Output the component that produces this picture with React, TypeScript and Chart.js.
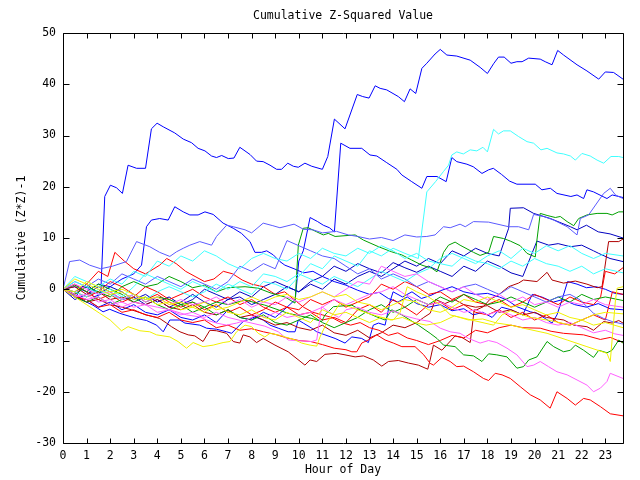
import React, { useEffect, useRef } from "react";
import { Chart, registerables } from "chart.js";

Chart.register(...registerables);

const TITLE = "Cumulative Z-Squared Value";
const X_TITLE = "Hour of Day";
const Y_TITLE = "Cumulative (Z*Z)-1";
const X_TICKS = [0, 1, 2, 3, 4, 5, 6, 7, 8, 9, 10, 11, 12, 13, 14, 15, 16, 17, 18, 19, 20, 21, 22, 23];
const Y_TICKS = [-30, -20, -10, 0, 10, 20, 30, 40, 50];
const X_MIN = 0;
const X_MAX = 23.75;
const Y_MIN = -30;
const Y_MAX = 50;

type P = [number, number];

const BIG_BLUE: P[] = [[0,0],[0.3,-0.8],[0.55,-1.5],[0.8,0.5],[1.05,0.3],[1.3,-1.5],[1.6,-1.0],[1.77,18.1],[2.01,20.3],[2.27,19.8],[2.52,18.7],[2.76,24.2],[3.12,23.6],[3.5,23.6],[3.75,31.3],[3.99,32.4],[4.25,31.7],[4.74,30.5],[5.1,29.3],[5.45,28.6],[5.73,27.5],[6.02,27.0],[6.3,26.0],[6.51,25.7],[6.73,26.1],[7.01,25.5],[7.25,25.6],[7.5,27.7],[7.93,26.3],[8.21,25.0],[8.49,24.9],[8.78,24.2],[9.06,23.4],[9.27,23.4],[9.53,24.6],[9.77,24.0],[9.98,23.8],[10.26,24.6],[10.55,24.0],[11.0,23.4],[11.23,25.9],[11.51,33.2],[11.96,31.3],[12.48,38.0],[12.71,37.6],[12.98,37.3],[13.24,39.7],[13.45,39.2],[13.73,38.9],[14.22,37.6],[14.48,36.6],[14.72,39.1],[14.96,38.2],[15.22,43.1],[15.43,44.1],[15.78,45.9],[16.0,46.8],[16.28,45.7],[16.7,45.5],[17.27,44.7],[17.69,43.3],[18.0,42.1],[18.26,44.0],[18.47,45.3],[18.71,45.3],[19.0,44.1],[19.25,44.4],[19.47,44.4],[19.75,45.1],[20.24,44.9],[20.45,44.4],[20.74,43.8],[20.98,46.6],[21.23,45.7],[21.8,43.8],[22.22,42.6],[22.72,41.0],[23.0,42.4],[23.35,42.3],[23.75,41.0]];

const BLUE_2: P[] = [[0,0],[0.5,-1.5],[1,-2],[1.5,-3.5],[2,-2.5],[2.5,-4],[3,-3],[3.5,-4.5],[4,-5],[4.5,-4],[5,-5.5],[5.5,-6],[6,-5],[6.5,-6.5],[7,-4],[7.5,-5.5],[8,-6],[8.5,-4.5],[9,-5.5],[9.5,-3.5],[9.85,-2],[10.0,5.5],[10.19,7.5],[10.48,14.0],[10.8,13.2],[11.04,12.5],[11.3,12.0],[11.51,11.2],[11.78,28.5],[12.17,27.5],[12.67,27.5],[13.02,26.2],[13.31,26.0],[13.73,24.7],[14.16,23.4],[14.37,22.3],[14.79,21.0],[15.22,19.7],[15.43,22.0],[15.86,22.0],[16.25,21.0],[16.49,25.7],[16.7,24.9],[17.13,24.4],[17.4,23.9],[17.77,22.6],[18.05,23.3],[18.25,23.6],[18.6,22.4],[18.94,21.1],[19.25,20.5],[20.03,20.5],[20.31,19.4],[20.67,19.7],[20.95,18.7],[21.54,18.1],[21.8,18.4],[22.08,17.7],[22.22,19.4],[22.5,19.0],[23.07,17.7],[23.29,18.4],[23.75,17.9]];

const BLUE_3: P[] = [[0,0],[0.5,0.5],[1,-0.5],[1.5,1.0],[2,0.5],[2.5,2.0],[3,3.0],[3.33,4.7],[3.54,12.2],[3.75,13.5],[4.1,13.8],[4.46,13.5],[4.74,16.1],[5.1,15.1],[5.38,14.5],[5.73,14.5],[6.02,15.1],[6.37,14.6],[6.79,12.9],[7.22,11.9],[7.57,10.9],[7.93,9.3],[8.14,7.2],[8.42,7.2],[8.64,7.5],[8.92,6.7],[9.2,5.4],[9.41,4.7],[9.8,4.0],[10.2,3.2],[10.6,3.5],[11.0,2.5],[11.5,1.5],[12.0,0.8],[12.5,-0.2],[13.0,-1.0],[13.4,-0.6],[13.8,-1.8],[14.2,-2.5],[14.6,-1.5],[15.0,-2.8],[15.5,-3.5],[16.0,-3.0],[16.5,-4.2],[17.0,-3.8],[17.4,-5.0],[17.8,-4.5],[18.2,-5.5],[18.6,-3.5],[19.0,-4.0],[19.5,-5.0],[19.9,-1.0],[20.3,-1.5],[20.8,-2.5],[21.2,-2.0],[21.7,-3.0],[22.2,-3.5],[22.7,-2.8],[23.2,-3.8],[23.75,-4.0]];

const BLUE_4: P[] = [[0,0],[0.5,-1.5],[1.0,-2.5],[1.27,-3.1],[1.7,-4.4],[1.98,-3.9],[2.41,-4.7],[3.12,-5.7],[3.54,-6.1],[3.97,-7.0],[4.25,-8.3],[4.53,-6.0],[4.96,-6.0],[5.17,-6.6],[5.8,-7.0],[6.09,-7.6],[6.51,-7.8],[6.94,-8.3],[7.15,-8.6],[7.64,-6.3],[8.14,-5.4],[8.49,-6.0],[8.78,-7.0],[9.13,-7.6],[9.55,-8.3],[9.84,-8.3],[9.98,-6.0],[10.19,-6.6],[10.55,-7.6],[10.76,-8.3],[11.11,-8.9],[11.54,-9.6],[11.96,-10.5],[12.25,-9.3],[12.67,-9.6],[12.95,-10.4],[13.16,-7.0],[13.38,-6.6],[13.66,-7.0],[13.8,-4.0],[13.87,-2.4],[14.0,-0.5],[14.4,-1.5],[14.8,-0.5],[15.2,-1.8],[15.6,-1.2],[16.0,-0.3],[16.5,0.5],[17.0,-0.5],[17.5,-1.0],[18.0,-0.8],[18.5,-1.5],[18.83,-2.1],[19.25,-3.4],[19.82,-4.4],[20.1,-4.7],[20.45,-5.7],[20.74,-6.6],[20.95,-5.0],[21.16,-2.1],[21.4,1.5],[21.8,1.0],[22.2,0.3],[22.6,0.5],[23.0,0.0],[23.4,-0.8],[23.75,-1.0]];

const BLUE_5: P[] = [[0,0],[0.5,-2],[1,-1],[1.5,0.5],[2,-0.5],[2.5,-2],[3,-1.5],[3.5,-3],[4,-2],[4.5,-3.5],[5,-2.5],[5.5,-1],[6,-2.5],[6.5,-3.5],[7,-2],[7.5,-1.5],[8,-3],[8.5,-2],[9,-1],[9.5,0.5],[10,-0.5],[10.5,1.5],[11,2.5],[11.5,4.5],[12,3.5],[12.5,5],[13,4],[13.5,3.2],[14,5.2],[14.5,4.2],[15,3.3],[15.5,4.5],[16,3.5],[16.5,2.5],[17,4.5],[17.5,3.5],[18,5.5],[18.5,4.5],[19,3.2],[19.5,2.5],[20.1,9.4],[20.6,8.6],[21.0,8.9],[21.52,8.3],[22.0,8.6],[22.5,7.5],[22.72,7.0],[23.2,6.0],[23.75,5.4]];

const DARK_BLUE: P[] = [[0,0],[0.5,-0.5],[1,1],[1.5,-1],[2,0.5],[2.5,-0.5],[3,-2],[3.5,-1],[4,-2.5],[4.5,-1.5],[5,-3],[5.5,-2],[6,0],[6.5,-1],[7,-2],[7.5,-0.5],[8,-1.5],[8.5,0.5],[9,1.5],[9.5,0.5],[10,-0.5],[10.5,1],[11,0],[11.5,2],[12,1],[12.5,2.5],[13,3.5],[13.5,2.5],[14,4],[14.5,5.5],[15,4.5],[15.5,6],[16,5],[16.5,7.5],[17,6.5],[17.5,8],[18,7],[18.5,6.5],[18.9,11.9],[18.97,15.8],[19.53,15.9],[19.96,14.8],[20.67,13.8],[21.52,12.2],[21.8,11.6],[22.2,12.5],[22.7,11.2],[23.2,10.8],[23.75,10.0]];

const SLATE_1: P[] = [[0,0],[0.28,5.4],[0.71,5.7],[1.13,4.7],[1.6,4.0],[2.1,4.5],[2.69,5.4],[3.12,9.3],[3.68,8.3],[4.1,7.2],[4.53,6.4],[4.81,7.3],[5.1,8.0],[5.38,8.6],[5.8,9.3],[6.3,8.6],[6.51,10.3],[6.94,12.5],[7.22,12.2],[7.72,11.6],[8.0,11.0],[8.49,12.9],[8.9,12.4],[9.2,12.0],[9.8,12.7],[10.2,11.7],[10.6,11.6],[11.0,11.0],[11.6,11.3],[12.1,10.6],[12.5,10.3],[13.0,9.8],[13.5,10.1],[14.0,9.5],[14.5,10.6],[15.0,10.2],[15.43,10.3],[15.78,10.6],[16.14,12.2],[16.42,12.0],[16.84,12.7],[17.06,12.2],[17.41,13.2],[18.05,13.1],[18.9,12.2],[19.32,12.2],[19.75,11.6],[19.96,14.6],[20.38,14.2],[20.81,13.5],[21.38,12.2],[21.8,10.6],[21.94,13.8],[22.29,14.5],[22.93,18.7],[23.21,19.7],[23.43,18.4],[23.75,17.7]];

const SLATE_2: P[] = [[0,0],[0.5,1.5],[1,0.5],[1.5,2],[2,1],[2.5,3],[3,2],[3.5,1],[4,2.5],[4.5,1.5],[5,0.5],[5.5,2],[6,1],[6.5,0],[7,1.5],[7.5,4.5],[8,3.5],[8.5,5],[9,4],[9.5,9.5],[10,8.5],[10.5,7.5],[11,6.5],[11.5,6],[12,4.5],[12.5,3],[13,4],[13.5,2],[14,3],[14.5,2],[15,0.5],[15.5,1.5],[16,0.5],[16.5,-0.5],[17,0.5],[17.5,1],[18,0],[18.5,-1],[19,0.5],[19.5,-0.5],[20,-1.5],[20.5,-2.5],[21,-1.5],[21.5,-1.0],[21.94,-2.1],[22.5,-4.7],[22.93,-5.7],[23.29,-6.3],[23.75,-6.8]];

const CYAN_TOP: P[] = [[0,0],[0.5,1.5],[1,0.5],[1.5,-1],[2,0],[2.5,-1.5],[3,0.5],[3.5,3],[4,2],[4.5,1],[5,0],[5.5,1.5],[6,0.5],[6.5,-0.5],[7,1],[7.5,0],[8,-1],[8.5,1.5],[9,1],[9.5,0],[10,2.5],[10.5,5],[11,4],[11.5,6.5],[12,5.5],[12.5,4.5],[13,7.5],[13.5,6.5],[14,8],[14.5,7],[15.07,6.0],[15.43,19.0],[15.8,21.0],[16.14,23.0],[16.35,24.2],[16.49,26.2],[16.7,26.8],[16.98,26.4],[17.27,27.2],[17.55,27.0],[17.81,27.7],[18.0,26.8],[18.26,31.2],[18.47,30.3],[18.68,30.9],[18.97,30.9],[19.32,29.8],[19.68,28.8],[19.96,28.5],[20.27,27.2],[20.53,27.5],[20.95,26.6],[21.23,26.4],[21.52,26.0],[21.73,25.2],[22.01,26.5],[22.36,26.0],[22.65,25.2],[22.93,24.6],[23.24,25.9],[23.57,25.9],[23.75,25.7]];

const CYAN_2: P[] = [[0,0],[0.5,2.5],[1,1.5],[1.5,0.5],[2,2],[2.5,1],[3,3.5],[3.5,2.5],[4,5.5],[4.5,4.5],[5,6.5],[5.5,5.5],[6,7.5],[6.5,6.5],[7,5],[7.5,4],[8,6],[8.5,7],[9,6],[9.5,5.5],[10,7],[10.5,6],[11,8],[11.5,7],[12,6.5],[12.5,8],[13,7],[13.5,8.5],[14,7.5],[14.5,6],[15,7],[15.5,5.5],[16,5],[16.5,4.5],[17,6.5],[17.5,5.5],[18,5],[18.5,4],[19,5.5],[19.5,4.5],[20,6],[20.5,5],[21,4.5],[21.5,3.5],[22,4.5],[22.5,3],[23,4],[23.75,3.2]];

const CYAN_3: P[] = [[0,0],[0.5,-0.5],[1,-1.5],[1.5,0],[2,-1],[2.5,-2],[3,-1],[3.5,-2],[4,-0.5],[4.5,0.5],[5,-0.5],[5.5,-1.5],[6,-0.5],[6.5,1],[7,0],[7.5,1.5],[8,0.5],[8.5,3],[9,2.5],[9.5,1.5],[10,3],[10.5,2],[11,1],[11.5,2.5],[12,1.5],[12.5,0.5],[13,2],[13.5,3.5],[14,2.5],[14.5,1.5],[15,3],[15.5,4],[16,6],[16.5,7],[17,6],[17.5,5],[18,6.5],[18.5,7.5],[19,6],[19.5,8],[20,7],[20.5,8.5],[21,7.5],[21.5,8.5],[22,7],[22.5,6],[23,7],[23.75,6.5]];

const GREEN_TOP: P[] = [[0,0],[0.5,-1],[1,0.5],[1.5,-0.5],[2,-1.5],[2.5,0.5],[3,1.5],[3.5,0.5],[4,1.0],[4.5,2.5],[5,1.5],[5.5,0.3],[6,0.8],[6.5,-0.5],[7,0.3],[7.72,0.5],[8.28,0.2],[8.85,-0.8],[9.41,-1.5],[9.84,-2.7],[9.98,8.6],[10.19,11.9],[10.4,12.0],[10.76,11.2],[11.04,10.6],[11.25,10.9],[11.54,10.3],[12.39,10.6],[12.74,9.6],[13.38,8.3],[13.94,7.3],[14.37,6.7],[14.79,5.7],[15.22,4.7],[15.64,4.1],[15.86,3.4],[16.14,7.2],[16.35,8.6],[16.63,9.2],[16.84,8.6],[17.41,7.2],[17.69,6.6],[18.05,7.2],[18.26,10.3],[18.68,9.9],[18.97,9.4],[19.39,8.5],[19.68,7.0],[20.03,6.3],[20.1,9.6],[20.24,14.8],[20.53,14.4],[20.88,14.0],[21.09,14.2],[21.38,13.2],[21.66,12.4],[21.87,13.8],[22.22,14.5],[22.65,14.8],[23.07,14.8],[23.29,14.5],[23.57,15.1],[23.75,15.1]];

const GREEN_BOT: P[] = [[0,0],[0.5,-1.5],[1,-2.5],[1.5,-1.5],[2,-3],[2.5,-2],[3,-1],[3.5,-2.5],[4,-1.5],[4.5,-2],[5,-3],[5.5,-2.5],[6,-3.5],[6.5,-2.5],[7,-3],[7.72,-2.1],[8.56,-3.1],[9.55,-4.7],[10.55,-5.7],[10.97,-6.3],[11.11,-5.0],[11.47,-3.4],[12.25,-3.1],[12.6,-4.0],[13.31,-5.4],[13.66,-6.0],[13.94,-4.0],[14.37,-5.0],[15.07,-7.0],[15.57,-8.6],[15.86,-9.6],[16.14,-10.9],[16.63,-11.2],[16.99,-12.8],[17.41,-13.0],[17.77,-14.1],[18.05,-12.6],[18.4,-12.8],[18.83,-13.2],[19.25,-15.4],[19.53,-15.1],[19.75,-13.8],[20.1,-13.2],[20.53,-10.2],[20.81,-11.2],[21.23,-12.2],[21.52,-11.9],[21.73,-10.9],[22.08,-11.9],[22.5,-13.3],[22.72,-11.9],[23.07,-12.4],[23.29,-11.9],[23.57,-9.9],[23.75,-10.5]];

const GREEN_3: P[] = [[0,0],[0.5,0.8],[1,-0.5],[1.5,1],[2,0],[2.5,-1],[3,-2.5],[3.5,-1.5],[4,-3],[4.5,-4],[5,-3],[5.5,-4.5],[6,-3.5],[6.5,-5],[7,-4],[7.5,-5.5],[8,-6],[8.5,-5],[9,-6.5],[9.5,-7],[10,-6],[10.5,-5],[11,-6.5],[11.5,-7.5],[12,-6.5],[12.5,-5.5],[13,-4],[13.5,-3],[14,-4.5],[14.5,-3.5],[15,-2],[15.5,-3],[16,-1.5],[16.5,-2.5],[17,-1],[17.5,-2],[18,-3],[18.5,-2.5],[19,-1.5],[19.5,-2.5],[20,-3.5],[20.5,-2.5],[21,-1.5],[21.5,-2.5],[22,-1],[22.5,-2],[23,-1.5],[23.75,-2.2]];

const RED_BOT: P[] = [[0,0],[0.5,-1.5],[1,-2],[1.5,-3.5],[2,-3],[2.5,-4.5],[3,-4],[3.5,-5],[4,-5.5],[4.5,-4.5],[5,-6],[5.5,-6.5],[6,-6],[6.5,-7.5],[7,-7],[7.5,-8],[8,-7.7],[8.5,-8.3],[9,-8.8],[9.5,-9.5],[10,-10],[10.5,-10.2],[11,-10.8],[11.5,-11.5],[12.0,-11.8],[12.25,-12.2],[12.46,-12.2],[12.67,-10.5],[12.95,-9.9],[13.31,-8.9],[13.66,-9.9],[14.01,-10.5],[14.37,-11.2],[14.93,-11.2],[15.3,-12.8],[15.57,-14.45],[15.71,-14.8],[16.07,-13.3],[16.42,-14.1],[16.7,-15.1],[16.99,-15.0],[17.41,-16.1],[17.83,-17.4],[18.05,-17.8],[18.33,-16.4],[18.62,-16.7],[18.97,-17.4],[19.39,-19.0],[19.82,-20.6],[20.24,-21.6],[20.66,-23.2],[20.95,-20.0],[21.38,-21.3],[21.73,-22.6],[22.08,-21.3],[22.36,-21.6],[22.79,-22.9],[23.21,-24.3],[23.75,-24.7]];

const RED_2: P[] = [[0,0],[0.5,-1],[1,1],[1.5,3.5],[1.9,2.5],[2.2,7.2],[2.6,5.5],[3.0,4.0],[3.5,3.0],[4.1,4.7],[4.4,6.0],[4.8,5.0],[5.2,3.5],[5.6,2.5],[6.0,1.5],[6.4,2.0],[6.8,3.5],[7.2,3.0],[7.6,1.8],[8.0,1.0],[8.5,0.5],[9.0,-1.0],[9.4,-0.5],[9.8,-2.0],[10.2,-3.5],[10.6,-4.5],[11.0,-5.0],[11.4,-5.5],[11.8,-6.5],[12.2,-7.0],[12.6,-6.5],[13.0,-7.5],[13.4,-8.0],[13.8,-9.0],[14.2,-8.5],[14.6,-9.5],[15.0,-10.0],[15.5,-10.8],[16.0,-10.0],[16.5,-9.0],[17.0,-9.5],[17.5,-8.0],[18.0,-8.5],[18.5,-7.5],[19.0,-7.0],[19.5,-7.5],[20.24,-7.6],[20.7,-8.2],[21.23,-8.6],[22.08,-8.9],[22.79,-9.8],[23.21,-9.4],[23.75,-10.4]];

const RED_3: P[] = [[0,0],[0.5,1],[1,-0.5],[1.5,-2],[2,-1],[2.5,-2.5],[3,-1.5],[3.5,0.5],[4,-0.5],[4.5,-2],[5,-1],[5.5,0],[6,-1.5],[6.5,-2.5],[7,-1.5],[7.5,-3],[8,-2],[8.5,-3.5],[9,-4.5],[9.5,-3.5],[10,-5],[10.5,-4.5],[11,-6],[11.5,-5.5],[12,-6.5],[12.5,-4],[13,-3],[13.5,-4.5],[14,-2],[14.5,-3.5],[15,-5],[15.5,-3],[16,-2.5],[16.5,-4],[17,-3],[17.5,-4.5],[18,-5],[18.5,-4],[19,-5.5],[19.5,-4.5],[20,-6],[20.5,-5],[21,-6.5],[21.5,-7],[22,-6],[22.5,-5],[23,-6],[23.3,-0.5],[23.75,-1]];

const RED_4: P[] = [[0,0],[0.5,-0.5],[1,-1.5],[1.5,-0.5],[2,1.5],[2.5,0.5],[3,-1],[3.5,-2],[4,-1],[4.5,-2.5],[5,-3.5],[5.5,-2.5],[6,-4],[6.5,-3],[7,-4.5],[7.5,-3.5],[8,-5],[8.5,-4],[9,-2.5],[9.5,-3.5],[10,-4],[10.5,-2],[11,-3],[11.5,-2],[12,-3.5],[12.5,-2.5],[13,-1.5],[13.5,1],[14,0],[14.5,1.5],[15,0.5],[15.5,-1],[16,-0.5],[16.5,-2],[17,-1],[17.5,-2.5],[18,-3],[18.5,-2],[19,-3.5],[19.5,-2.5],[20,-1],[20.5,-2],[21,-3],[21.5,-1.5],[22,-2.5],[22.5,-3],[22.8,-1.5],[23.0,3.5],[23.4,3.0],[23.75,4.2]];

const DARK_RED_1: P[] = [[0,0],[0.5,-1],[1,-2.5],[1.5,-2],[2,-3],[2.5,-3.5],[2.9,-4.0],[3.54,-5.0],[4.1,-5.7],[4.39,-6.6],[4.6,-7.3],[4.96,-8.3],[5.31,-8.9],[5.59,-9.1],[5.94,-10.2],[6.23,-8.0],[6.51,-8.1],[6.94,-8.6],[7.22,-10.2],[7.5,-10.5],[7.64,-8.9],[7.93,-9.3],[8.21,-10.4],[8.49,-9.6],[8.99,-10.9],[9.55,-12.2],[10.26,-14.8],[10.48,-13.8],[10.76,-14.1],[11.11,-12.7],[11.61,-12.5],[11.96,-12.8],[12.39,-13.2],[12.74,-13.0],[13.16,-13.8],[13.52,-15.0],[13.8,-14.1],[14.22,-13.9],[14.65,-14.4],[15.07,-14.8],[15.47,-15.6],[15.57,-13.8],[15.71,-10.9],[16.07,-11.9],[16.35,-10.5],[16.63,-9.1],[16.92,-9.4],[17.27,-10.4],[17.44,-4.0],[17.55,-4.0],[17.83,-3.4],[18.1,-2.0],[18.5,-1.0],[18.9,0.5],[19.32,1.2],[19.53,1.8],[20.1,1.5],[20.53,3.3],[20.74,1.8],[21.23,1.2],[21.73,1.6],[22.22,1.0],[22.65,0.3],[22.86,0.5],[23.14,9.3],[23.57,9.3],[23.75,9.8]];

const DARK_RED_2: P[] = [[0,0],[0.5,0.5],[1,-1],[1.5,-0.5],[2,-2],[2.5,-1.5],[3,-2.5],[3.5,-3],[4,-2],[4.5,-3.5],[5,-4],[5.5,-3],[6,-4.5],[6.5,-5],[7,-4],[7.5,-5.5],[8,-5],[8.5,-6],[9,-7],[9.5,-6.5],[10,-7.5],[10.5,-8],[11,-7],[11.5,-8.5],[12,-9],[12.5,-8],[13,-9.5],[13.5,-8.5],[14,-7],[14.5,-7.5],[15,-6.5],[15.3,-5.5],[15.57,-4.7],[15.8,-2.0],[16.2,-2.8],[16.6,-2.0],[17.0,-3.0],[17.5,-3.5],[18,-3.2],[18.5,-4.5],[19,-4.0],[19.5,-5.0],[20,-4.5],[20.5,-5.5],[21.24,-6.0],[21.66,-7.0],[22.22,-7.3],[22.5,-8.0],[22.93,-6.3],[23.29,-6.6],[23.57,-6.1],[23.75,-6.6]];

const MAGENTA_1: P[] = [[0,0],[0.5,-1],[1,-2],[1.5,-1.5],[2,-3],[2.5,-2.5],[3,-3.5],[3.5,-3],[4,-4.5],[4.5,-4],[5,-5],[5.5,-4.5],[6,-5.5],[6.5,-4.5],[7,-5.5],[7.72,-6.3],[8.56,-7.2],[9.13,-8.3],[9.55,-9.9],[9.84,-10.0],[10.55,-10.2],[10.76,-9.9],[10.97,-3.4],[11.3,-4.5],[11.7,-5.5],[12,-4.0],[12.5,-3.5],[13,-4.5],[13.5,-5],[14,-4.2],[14.5,-5.2],[15,-5.8],[15.57,-6.3],[16.0,-7.6],[16.42,-8.3],[16.84,-8.6],[17.2,-9.6],[17.69,-10.5],[18.05,-10.0],[18.4,-10.4],[18.83,-11.5],[19.25,-12.8],[19.68,-15.1],[19.96,-14.8],[20.24,-14.1],[20.59,-15.1],[20.95,-16.1],[21.38,-16.7],[21.8,-17.7],[22.22,-18.7],[22.5,-20.0],[22.79,-19.3],[23.07,-18.0],[23.21,-16.4],[23.75,-17.4]];

const MAGENTA_2: P[] = [[0,0],[0.5,-1.5],[1,-1],[1.5,-2.5],[2,-2],[2.5,-3.5],[3,-2.5],[3.5,-3],[4,-3.5],[4.53,-4.0],[5.24,-5.0],[5.8,-5.4],[6.09,-6.0],[6.51,-6.6],[6.94,-7.0],[7.36,-6.6],[7.79,-6.0],[8.2,-5.0],[8.6,-5.5],[9,-4.5],[9.5,-5.5],[10,-5],[10.5,-4.5],[11,-3.5],[11.5,-2],[12,-3],[12.5,-2],[13,-1],[13.5,-0.5],[14,0.5],[14.5,-1],[15,-2],[15.5,-3],[16,-2.5],[16.5,-3.5],[17,-4.5],[17.5,-4],[18,-5],[18.5,-4.2],[19,-5],[19.5,-6],[20,-5.5],[20.5,-6.5],[21,-7],[21.5,-6.5],[22,-7.5],[22.5,-8.5],[23,-8],[23.4,-8.7],[23.75,-9.0]];

const MAGENTA_3: P[] = [[0,0],[0.5,1],[1,0],[1.5,-1],[2,-0.5],[2.5,-2],[3,-1],[3.5,-2.5],[4,-1.5],[4.5,-3],[5,-2],[5.5,-3],[6,-2.5],[6.5,-1.5],[7,-3],[7.5,-2],[8,-3.5],[8.5,-2.5],[9,-3],[9.5,-1.5],[10,-2.5],[10.5,-1.5],[11,-0.5],[11.5,-1.5],[12,0],[12.5,1.5],[13,1.0],[13.5,4.5],[14,3.5],[14.5,2.5],[15,3],[15.5,1.5],[16,0.5],[16.5,-0.5],[17,0.5],[17.5,-1],[18,-2],[18.5,-1],[19,-2.5],[19.5,-1.5],[20,-3],[20.5,-2.5],[21,-3.5],[21.5,-2.5],[22,-3],[22.5,-2],[23,-3],[23.75,-3.5]];

const YELLOW_1: P[] = [[0,0],[0.5,-1.5],[1,-3],[1.56,-4.7],[2.0,-6],[2.48,-8.1],[2.76,-7.3],[3.26,-8.1],[3.68,-8.3],[3.97,-8.9],[4.53,-9.3],[4.88,-10.2],[5.24,-11.5],[5.52,-10.4],[5.94,-11.2],[6.37,-10.9],[6.79,-10.4],[7.08,-10.2],[7.36,-8.3],[7.72,-7.0],[8.0,-7.3],[8.28,-8.6],[8.56,-9.3],[8.78,-8.6],[9.2,-9.0],[9.85,-9.9],[10.12,-10.5],[10.48,-10.9],[10.76,-11.1],[10.9,-9.3],[11.18,-6.6],[11.47,-4.7],[11.75,-2.7],[12.2,-3.5],[12.8,-4.5],[13.3,-5.2],[13.9,-6],[14.4,-5.5],[14.9,-6.5],[15.4,-7],[16,-6.5],[16.6,-5.2],[17.2,-6],[17.8,-5.8],[18.4,-6.6],[19,-7],[19.53,-7.6],[20.53,-8.6],[21.38,-9.9],[22.22,-11.2],[23.07,-12.5],[23.21,-14.1],[23.43,-2.1],[23.5,0.2],[23.75,0.5]];

const YELLOW_2: P[] = [[0,0],[0.5,2],[1,1],[1.5,0],[2,-1],[2.5,-0.5],[3,-2],[3.5,-1.5],[4,-3],[4.5,-2.5],[5,-4],[5.5,-3.5],[6,-4.5],[6.5,-3],[7,-4.5],[7.5,-5],[8,-4],[8.5,-5.5],[9,-6],[9.5,-4.5],[10,-5.5],[10.5,-6.5],[11,-4],[11.5,-5],[12,-4.5],[12.5,-5.5],[13,-6.5],[13.5,-5.5],[14,-6],[14.3,-4.5],[14.6,0.5],[15,-0.5],[15.5,-1.5],[16,-3],[16.42,-5.0],[17.41,-6.1],[18.26,-7.0],[18.62,-5.0],[18.97,-4.2],[19.82,-5.5],[20.67,-6.1],[21.52,-7.0],[22.0,-6.0],[22.5,-5.0],[23,-4.5],[23.75,-4.8]];

const YELLOW_3: P[] = [[0,0],[0.5,-0.5],[1,1.5],[1.5,0.5],[2,-0.5],[2.5,0],[3,-1],[3.5,-2],[4,-1.5],[4.5,-3],[5,-2.5],[5.5,-3.5],[6,-2.5],[6.5,-4],[7,-3.5],[7.5,-2.5],[8,-1.5],[8.5,-2.5],[9,-1.5],[9.5,-1],[10,-2],[10.5,-1.5],[11,-0.5],[11.5,-1.5],[12,-1],[12.5,-2.5],[13,-3],[13.5,-4],[14,-3],[14.5,-2],[15,-2.5],[15.5,-4],[16,-4.5],[16.5,-3.5],[17,-2],[17.5,-2.5],[18,-1.5],[18.5,-2.5],[19,-3.5],[19.5,-3],[20,-4],[20.5,-5],[21,-4.5],[21.5,-5.5],[22,-6],[22.5,-7],[23,-6.5],[23.75,-7.5]];

const RED = "#ff0000";
const DRED = "#b00000";
const GREEN = "#00a000";
const BLUE = "#0000ff";
const DBLUE = "#0000c0";
const SLATE = "#5a5aff";
const CYAN = "#40ffff";
const MAGENTA = "#ff60ff";
const YELLOW = "#f0f000";

const SERIES: { data: P[]; color: string }[] = [
  { data: YELLOW_1, color: YELLOW },
  { data: YELLOW_2, color: YELLOW },
  { data: YELLOW_3, color: YELLOW },
  { data: MAGENTA_1, color: MAGENTA },
  { data: MAGENTA_2, color: MAGENTA },
  { data: MAGENTA_3, color: MAGENTA },
  { data: CYAN_2, color: CYAN },
  { data: CYAN_3, color: CYAN },
  { data: CYAN_TOP, color: CYAN },
  { data: SLATE_1, color: SLATE },
  { data: SLATE_2, color: SLATE },
  { data: GREEN_3, color: GREEN },
  { data: GREEN_BOT, color: GREEN },
  { data: GREEN_TOP, color: GREEN },
  { data: RED_2, color: RED },
  { data: RED_3, color: RED },
  { data: RED_4, color: RED },
  { data: RED_BOT, color: RED },
  { data: DARK_RED_1, color: DRED },
  { data: DARK_RED_2, color: DRED },
  { data: DARK_BLUE, color: DBLUE },
  { data: BLUE_5, color: DBLUE },
  { data: BLUE_4, color: BLUE },
  { data: BLUE_3, color: BLUE },
  { data: BLUE_2, color: BLUE },
  { data: BIG_BLUE, color: BLUE },
];

const FONT = '11.5px "DejaVu Sans Mono", monospace';

const framePlugin = {
  id: "gnuplotFrame",
  afterDatasetsDraw(chart: any) {
    const { ctx, chartArea: a, scales } = chart;
    const xs = scales.x;
    const ys = scales.y;
    const L = Math.round(a.left) + 0.5;
    const R = Math.round(a.right) + 0.5;
    const T = Math.round(a.top) + 0.5;
    const B = Math.round(a.bottom) + 0.5;
    ctx.save();
    ctx.strokeStyle = "#000";
    ctx.lineWidth = 1;
    ctx.beginPath();
    ctx.rect(L, T, R - L, B - T);
    for (const t of X_TICKS) {
      const px = Math.round(xs.getPixelForValue(t)) + 0.5;
      ctx.moveTo(px, B);
      ctx.lineTo(px, B - 5);
      ctx.moveTo(px, T);
      ctx.lineTo(px, T + 5);
    }
    for (const t of Y_TICKS) {
      const py = Math.round(ys.getPixelForValue(t)) + 0.5;
      ctx.moveTo(L, py);
      ctx.lineTo(L + 6, py);
      ctx.moveTo(R, py);
      ctx.lineTo(R - 6, py);
    }
    ctx.stroke();

    ctx.fillStyle = "#000";
    ctx.font = FONT;
    ctx.textBaseline = "middle";
    ctx.textAlign = "center";
    for (const t of X_TICKS) {
      ctx.fillText(String(t), xs.getPixelForValue(t), a.bottom + 13);
    }
    ctx.textAlign = "right";
    for (const t of Y_TICKS) {
      ctx.fillText(String(t), a.left - 7, ys.getPixelForValue(t));
    }
    ctx.textAlign = "center";
    const cx = (a.left + a.right) / 2;
    ctx.fillText(TITLE, cx, 16);
    ctx.fillText(X_TITLE, cx, a.bottom + 27);
    ctx.save();
    ctx.translate(22, (a.top + a.bottom) / 2);
    ctx.rotate(-Math.PI / 2);
    ctx.fillText(Y_TITLE, 0, 0);
    ctx.restore();
    ctx.restore();
  },
};

export default function App() {
  const ref = useRef<HTMLCanvasElement | null>(null);
  useEffect(() => {
    if (!ref.current) return;
    const chart = new Chart(ref.current, {
      type: "line",
      data: {
        datasets: SERIES.map((s, i) => ({
          label: "s" + i,
          data: s.data.map(([x, y]) => ({ x, y })),
          borderColor: s.color,
          backgroundColor: s.color,
          borderWidth: 1,
          pointRadius: 0,
          tension: 0,
          fill: false,
        })),
      },
      options: {
        animation: false,
        responsive: false,
        maintainAspectRatio: false,
        devicePixelRatio: 1,
        layout: { padding: { left: 63, top: 33, right: 17, bottom: 37 } },
        plugins: { legend: { display: false }, tooltip: { enabled: false }, title: { display: false } },
        events: [],
        scales: {
          x: { type: "linear", min: X_MIN, max: X_MAX, display: false },
          y: { type: "linear", min: Y_MIN, max: Y_MAX, display: false },
        },
      },
      plugins: [framePlugin],
    });
    return () => chart.destroy();
  }, []);
  return (
    <div style={{ position: "fixed", left: 0, top: 0, width: 640, height: 480, background: "#fff" }}>
      <canvas ref={ref} width={640} height={480} style={{ width: 640, height: 480 }} />
    </div>
  );
}
